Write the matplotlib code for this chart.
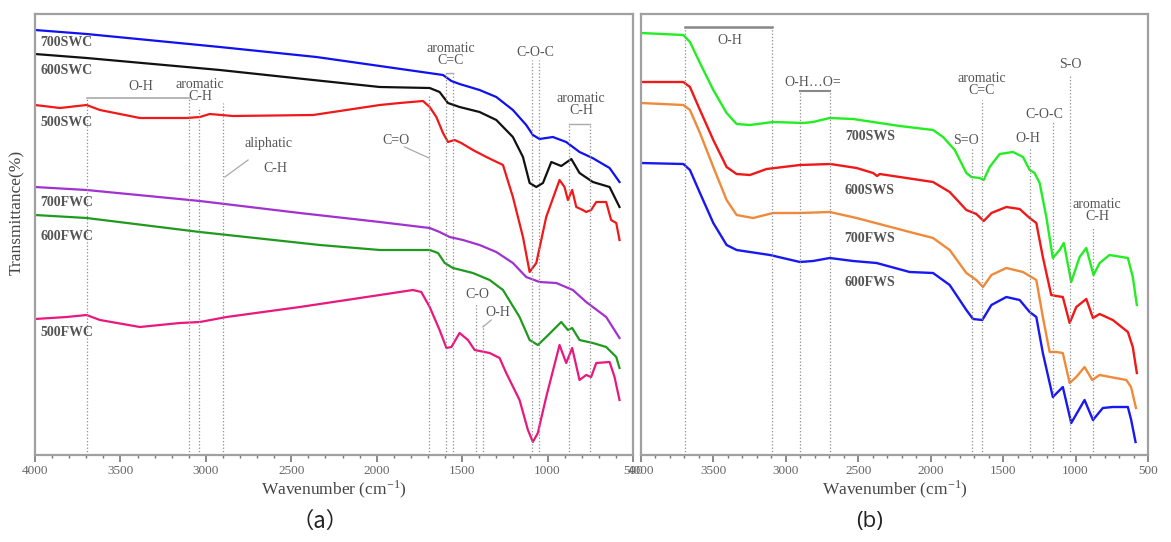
import numpy as np
import matplotlib.pyplot as plt
from matplotlib.ticker import MultipleLocator

plt.rcParams['font.family'] = ['Liberation Serif', 'DejaVu Serif']
plt.rcParams['mathtext.fontset'] = 'stix'

# ---- panel (a): carbon spectra, wavenumber (cm-1) vs transmittance (a.u.) ----
wn_700swc = [4000, 3698, 2918, 2353, 1982, 1612, 1563, 1515, 1398, 1300, 1203, 1125, 1086, 1047, 969, 891, 813, 737, 637, 579]
t_700swc = [425, 421, 408, 398, 389, 380, 374, 371, 365, 358, 345, 330, 320, 316, 318, 313, 303, 297, 287, 273]

wn_600swc = [4000, 3698, 2918, 2372, 1982, 1690, 1632, 1583, 1515, 1398, 1300, 1203, 1144, 1105, 1066, 1027, 978, 920, 861, 813, 735, 637, 579]
t_600swc = [401, 397, 385, 375, 368, 367, 363, 352, 348, 343, 335, 318, 298, 272, 268, 272, 293, 289, 296, 282, 273, 268, 248]

wn_500swc = [4000, 3854, 3698, 3620, 3386, 3113, 3035, 2977, 2842, 2372, 1982, 1865, 1729, 1690, 1651, 1612, 1583, 1544, 1505, 1437,
             1358, 1261, 1203, 1144, 1105, 1066, 1008, 930, 901, 881, 856, 832, 794, 774, 745, 715, 657, 628, 598, 579]
t_500swc = [350, 347, 350, 345, 337, 337, 338, 341, 339, 340, 350, 352, 354, 348, 338, 322, 313, 315, 312, 305,
            298, 290, 258, 218, 183, 192, 238, 275, 268, 255, 265, 248, 245, 243, 245, 253, 253, 235, 232, 215]

wn_700fwc = [4000, 3698, 3035, 2450, 1982, 1690, 1632, 1573, 1495, 1398, 1300, 1203, 1125, 1047, 949, 852, 774, 657, 579]
t_700fwc = [268, 265, 254, 242, 233, 227, 223, 218, 215, 210, 203, 192, 178, 173, 172, 165, 153, 138, 117]

wn_600fwc = [4000, 3698, 3035, 2333, 1982, 1690, 1641, 1602, 1554, 1437, 1339, 1261, 1164, 1105, 1057, 1008, 920, 881, 856, 813, 735, 657, 598, 579]
t_600fwc = [240, 237, 223, 210, 205, 205, 202, 192, 187, 182, 175, 165, 138, 115, 110, 118, 133, 125, 127, 115, 112, 108, 98, 87]

wn_500fwc = [4000, 3815, 3698, 3620, 3386, 3152, 3035, 2879, 2450, 1982, 1788, 1739, 1690, 1632, 1592, 1563, 1515, 1466, 1427, 1339,
             1281, 1242, 1164, 1115, 1086, 1057, 1008, 930, 891, 856, 813, 774, 745, 715, 637, 608, 579]
t_500fwc = [136, 138, 140, 135, 128, 132, 133, 138, 148, 160, 165, 163, 148, 125, 107, 108, 122, 115, 105, 102,
            97, 82, 55, 25, 13, 22, 58, 110, 92, 107, 75, 80, 78, 92, 93, 78, 55]

names_a = ['700SWC', '600SWC', '500SWC', '700FWC', '600FWC', '500FWC']
name_y_a = [412, 384, 332, 252, 219, 122]

# band positions marked in (a) and where their dotted guides start
bands_a = [3694, 3101, 3039, 2899, 1694, 1592, 1554, 1417, 1378, 1092, 1051, 875, 754]
band_top_a = [357, 357, 348, 352, 360, 382, 382, 152, 130, 395, 395, 331, 331]

# ---- panel (b): sludge spectra ----
wn_700sws = [4000, 3708, 3662, 3593, 3501, 3409, 3340, 3248, 3088, 2881, 2812, 2697, 2536, 2214, 1984, 1915, 1834, 1754, 1719, 1662,
             1634, 1593, 1524, 1432, 1363, 1317, 1283, 1248, 1202, 1157, 1110, 1081, 1030, 972, 926, 876, 834, 766, 639, 605, 577]
t_700sws = [422, 420, 413, 392, 365, 342, 331, 330, 333, 332, 333, 337, 336, 329, 325, 318, 305, 282, 278, 277,
            275, 288, 301, 303, 298, 285, 282, 272, 238, 197, 205, 212, 173, 198, 207, 180, 192, 200, 197, 178, 150]

wn_600sws = [4000, 3708, 3662, 3593, 3501, 3409, 3340, 3248, 3133, 2903, 2692, 2512, 2398, 2370, 2352, 2214, 1984, 1869, 1754, 1685,
             1634, 1581, 1478, 1386, 1317, 1271, 1226, 1168, 1133, 1088, 1041, 995, 926, 880, 834, 743, 639, 605, 577]
t_600sws = [373, 373, 368, 345, 315, 288, 281, 280, 286, 290, 291, 287, 282, 279, 281, 278, 273, 263, 245, 241,
            234, 242, 248, 246, 237, 232, 198, 160, 159, 158, 132, 148, 156, 137, 141, 135, 123, 108, 82]

wn_700fws = [4000, 3708, 3662, 3593, 3501, 3409, 3340, 3226, 3088, 2903, 2697, 2512, 2145, 1984, 1869, 1754, 1685, 1639, 1581, 1478,
             1363, 1294, 1271, 1226, 1179, 1133, 1088, 1041, 995, 938, 885, 834, 650, 617, 583]
t_700fws = [352, 350, 345, 322, 288, 255, 240, 237, 242, 242, 243, 237, 223, 217, 205, 182, 175, 168, 180, 187,
            183, 177, 175, 138, 103, 103, 102, 72, 78, 88, 75, 80, 75, 68, 47]

wn_600fws = [4000, 3708, 3662, 3593, 3501, 3409, 3340, 3110, 2903, 2812, 2697, 2536, 2374, 2145, 1984, 1869, 1754, 1708, 1644, 1581,
             1478, 1386, 1317, 1271, 1226, 1157, 1088, 1030, 938, 880, 812, 743, 639, 616, 586]
t_600fws = [292, 291, 285, 262, 232, 210, 205, 200, 193, 194, 197, 194, 192, 183, 182, 170, 145, 136, 135, 150,
            158, 155, 143, 138, 102, 58, 68, 32, 55, 35, 47, 48, 48, 35, 13]

names_b = ['700SWS', '600SWS', '700FWS', '600FWS']
name_y_b = [319, 264, 216, 172]

bands_b = [3697, 3099, 2899, 2692, 1715, 1644, 1317, 1157, 1037, 880]
band_top_b = [428, 428, 364, 364, 308, 355, 308, 333, 380, 227]

GRAY = '#8c8c8c'
TXT = '#555555'

fig = plt.figure(figsize=(11.71, 5.42), dpi=100)
W, H = 1171, 542
ax1 = fig.add_axes([35 / W, 1 - 455 / H, 598 / W, 441 / H])
ax2 = fig.add_axes([641 / W, 1 - 455 / H, 507 / W, 441 / H])


def style_axis(ax):
    ax.set_xlim(4000, 500)
    ax.set_ylim(0, 441)
    for s in ax.spines.values():
        s.set_color('#a0a0a0')
        s.set_linewidth(1.6)
    ax.set_yticks([])
    ax.xaxis.set_major_locator(MultipleLocator(500))
    ax.xaxis.set_minor_locator(MultipleLocator(100))
    ax.tick_params(axis='x', which='major', direction='out', length=5, width=1.2,
                   color='#777777', labelsize=9.5, labelcolor='#666666', pad=2)
    ax.tick_params(axis='x', which='minor', direction='out', length=2.5, width=1, color='#777777')
    ax.set_xlabel(r'Wavenumber (cm$^{\mathregular{-1}}$)', fontsize=12.5, color='#444444', labelpad=1)


style_axis(ax1)
style_axis(ax2)

# panel (a) curves
ax1.plot(wn_700swc, t_700swc, color='#1010f0', lw=1.6)
ax1.plot(wn_600swc, t_600swc, color='#111111', lw=1.6)
ax1.plot(wn_500swc, t_500swc, color='#f01818', lw=1.6)
ax1.plot(wn_700fwc, t_700fwc, color='#a032d0', lw=1.6)
ax1.plot(wn_600fwc, t_600fwc, color='#1f9a1f', lw=1.6)
ax1.plot(wn_500fwc, t_500fwc, color='#e8187e', lw=1.6)

ax1.vlines(bands_a, 0, band_top_a, colors=GRAY, linestyles=':', lw=0.9)
for name, yy in zip(names_a, name_y_a):
    ax1.text(3970, yy, name, fontsize=10, fontweight='bold', color=TXT, ha='left', va='center')

ax1.set_ylabel('Transmittance(%)', fontsize=12.5, color='#444444')
ax1.yaxis.set_label_coords(-0.017, 0.55)

# band labels in (a)
ax1.plot([3694, 3101], [357, 357], color='#aaaaaa', lw=1.2)
ax1.text(3380, 368, 'O-H', fontsize=10, color=TXT, ha='center', va='center')
ax1.text(3035, 364, 'aromatic\nC-H', fontsize=10, color=TXT, ha='center', va='center', linespacing=0.9)
ax1.text(2636, 312, 'aliphatic', fontsize=10, color=TXT, ha='center', va='center')
ax1.text(2596, 287, 'C-H', fontsize=10, color=TXT, ha='center', va='center')
ax1.plot([2753, 2889], [295, 278], color='#aaaaaa', lw=0.9)
ax1.text(1565, 400, 'aromatic\nC=C', fontsize=10, color=TXT, ha='center', va='center', linespacing=0.9)
ax1.plot([1592, 1554], [382, 382], color='#aaaaaa', lw=1.0)
ax1.text(1070, 402, 'C-O-C', fontsize=10, color=TXT, ha='center', va='center')
ax1.text(805, 350, 'aromatic\nC-H', fontsize=10, color=TXT, ha='center', va='center', linespacing=0.9)
ax1.plot([875, 754], [331, 331], color='#aaaaaa', lw=1.0)
ax1.text(1885, 314, 'C=O', fontsize=10, color=TXT, ha='center', va='center')
ax1.plot([1836, 1694], [308, 297], color='#aaaaaa', lw=0.9)
ax1.text(1408, 160, 'C-O', fontsize=10, color=TXT, ha='center', va='center')
ax1.text(1291, 142, 'O-H', fontsize=10, color=TXT, ha='center', va='center')
ax1.plot([1330, 1378], [135, 128], color='#aaaaaa', lw=0.9)

# panel (b) curves
ax2.plot(wn_700sws, t_700sws, color='#22ee22', lw=1.7)
ax2.plot(wn_600sws, t_600sws, color='#f01818', lw=1.7)
ax2.plot(wn_700fws, t_700fws, color='#f08a3a', lw=1.7)
ax2.plot(wn_600fws, t_600fws, color='#1818f0', lw=1.7)

ax2.vlines(bands_b, 0, band_top_b, colors=GRAY, linestyles=':', lw=0.9)
for name, yy in zip(names_b, name_y_b):
    ax2.text(2420, yy, name, fontsize=10, fontweight='bold', color=TXT, ha='center', va='center')

ax2.plot([3697, 3099], [428, 428], color='#888888', lw=1.8)
ax2.text(3386, 414, 'O-H', fontsize=10, color=TXT, ha='center', va='center')
ax2.plot([2899, 2692], [364, 364], color='#888888', lw=1.5)
ax2.text(2812, 373, 'O-H…O=', fontsize=10, color=TXT, ha='center', va='center')
ax2.text(1650, 370, 'aromatic\nC=C', fontsize=10, color=TXT, ha='center', va='center', linespacing=0.9)
ax2.text(1754, 314, 'S=O', fontsize=10, color=TXT, ha='center', va='center')
ax2.text(1328, 316, 'O-H', fontsize=10, color=TXT, ha='center', va='center')
ax2.text(1214, 341, 'C-O-C', fontsize=10, color=TXT, ha='center', va='center')
ax2.text(1037, 390, 'S-O', fontsize=10, color=TXT, ha='center', va='center')
ax2.text(850, 244, 'aromatic\nC-H', fontsize=10, color=TXT, ha='center', va='center', linespacing=0.9)

fig.text(320 / W, 1 - 521 / H, '（a）', fontsize=16, ha='center', va='center',
         family=['Noto Sans CJK SC', 'DejaVu Sans'], color='#222222')
fig.text(870 / W, 1 - 521 / H, '(b)', fontsize=16, ha='center', va='center',
         family=['Open Sans', 'DejaVu Sans'], color='#222222')

fig.savefig('out.png', dpi=100)
